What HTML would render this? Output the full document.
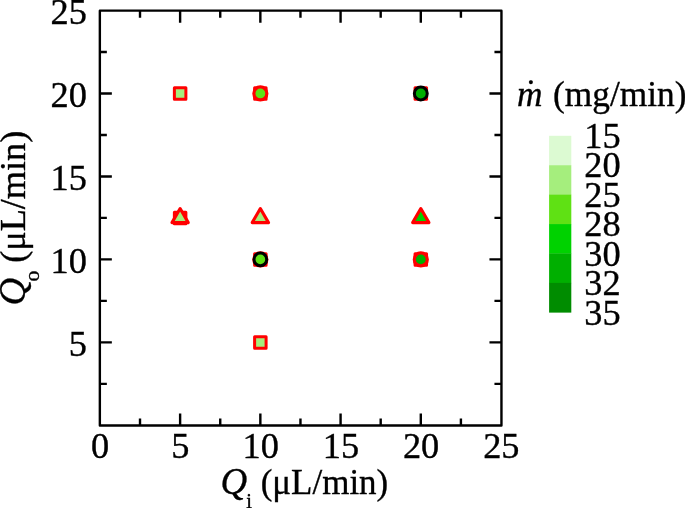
<!DOCTYPE html>
<html><head><meta charset="utf-8"><title>chart</title>
<style>
html,body{margin:0;padding:0;background:#fff;}
body{width:685px;height:508px;overflow:hidden;}
svg{display:block;}
text{font-family:"Liberation Serif","DejaVu Serif",serif;fill:#000;stroke:#000;stroke-width:0.35px;}
.it{font-style:italic;}
</style></head><body>
<svg width="685" height="508" viewBox="0 0 685 508">
<rect x="0" y="0" width="685" height="508" fill="#fff"/>
<path d="M140.01 425.55V418.55M140.01 10.65V17.65M99.85 383.88H106.85M501.45 383.88H494.45M180.12 425.55V413.55M180.12 10.65V22.65M99.85 342.39H111.85M501.45 342.39H489.45M220.24 425.55V418.55M220.24 10.65V17.65M99.85 300.90H106.85M501.45 300.90H494.45M260.35 425.55V413.55M260.35 10.65V22.65M99.85 259.41H111.85M501.45 259.41H489.45M300.46 425.55V418.55M300.46 10.65V17.65M99.85 217.92H106.85M501.45 217.92H494.45M340.58 425.55V413.55M340.58 10.65V22.65M99.85 176.43H111.85M501.45 176.43H489.45M380.69 425.55V418.55M380.69 10.65V17.65M99.85 134.94H106.85M501.45 134.94H494.45M420.80 425.55V413.55M420.80 10.65V22.65M99.85 93.45H111.85M501.45 93.45H489.45M460.91 425.55V418.55M460.91 10.65V17.65M99.85 51.96H106.85M501.45 51.96H494.45" stroke="#000" stroke-width="2.4" fill="none"/>
<rect x="99.85" y="10.65" width="401.60" height="414.90" fill="none" stroke="#000" stroke-width="2.4" stroke-linejoin="round"/>
<rect x="174.38" y="87.70" width="11.5" height="11.5" fill="#a5ee7d" stroke="#ff0000" stroke-width="3" stroke-linejoin="round"/>
<rect x="254.60" y="87.70" width="11.5" height="11.5" fill="#a5ee7d" stroke="#ff0000" stroke-width="3" stroke-linejoin="round"/>
<circle cx="260.35" cy="93.45" r="6.5" fill="#5fe114" stroke="#ff0000" stroke-width="3.2"/>
<rect x="415.05" y="87.70" width="11.5" height="11.5" fill="#a5ee7d" stroke="#ff0000" stroke-width="3" stroke-linejoin="round"/>
<circle cx="420.80" cy="93.45" r="6.45" fill="#00af00" stroke="#000" stroke-width="3.0"/>
<rect x="174.38" y="212.17" width="11.5" height="11.5" fill="#ff0000" stroke="#ff0000" stroke-width="3" stroke-linejoin="round"/>
<path d="M180.12 208.52L188.27 222.62H171.98Z" fill="#a5ee7d" stroke="#ff0000" stroke-width="3.1" stroke-linejoin="round"/>
<path d="M260.35 208.52L268.49 222.62H252.21Z" fill="#a5ee7d" stroke="#ff0000" stroke-width="3.1" stroke-linejoin="round"/>
<path d="M420.80 208.52L428.94 222.62H412.66Z" fill="#00d200" stroke="#ff0000" stroke-width="3.1" stroke-linejoin="round"/>
<rect x="254.60" y="253.66" width="11.5" height="11.5" fill="#a5ee7d" stroke="#ff0000" stroke-width="3" stroke-linejoin="round"/>
<circle cx="260.35" cy="259.41" r="6.5" fill="#5fe114" stroke="#ff0000" stroke-width="3.2"/>
<circle cx="260.35" cy="259.41" r="6.35" fill="#5fe114" stroke="#000" stroke-width="3.0"/>
<rect x="415.05" y="253.66" width="11.5" height="11.5" fill="#a5ee7d" stroke="#ff0000" stroke-width="3" stroke-linejoin="round"/>
<circle cx="420.80" cy="259.41" r="6.5" fill="#00af00" stroke="#ff0000" stroke-width="3.2"/>
<rect x="254.60" y="336.64" width="11.5" height="11.5" fill="#a5ee7d" stroke="#ff0000" stroke-width="3" stroke-linejoin="round"/>
<text transform="translate(100.20,458.40) scale(0.99,1)" font-size="36.7" text-anchor="middle">0</text>
<text transform="translate(180.43,458.40) scale(0.99,1)" font-size="36.7" text-anchor="middle">5</text>
<text transform="translate(260.65,458.40) scale(0.99,1)" font-size="36.7" text-anchor="middle">10</text>
<text transform="translate(340.88,458.40) scale(0.99,1)" font-size="36.7" text-anchor="middle">15</text>
<text transform="translate(421.10,458.40) scale(0.99,1)" font-size="36.7" text-anchor="middle">20</text>
<text transform="translate(501.33,458.40) scale(0.99,1)" font-size="36.7" text-anchor="middle">25</text>
<text transform="translate(86.90,355.59) scale(0.99,1)" font-size="36.7" text-anchor="end">5</text>
<text transform="translate(86.90,272.61) scale(0.99,1)" font-size="36.7" text-anchor="end">10</text>
<text transform="translate(86.90,189.63) scale(0.99,1)" font-size="36.7" text-anchor="end">15</text>
<text transform="translate(86.90,106.65) scale(0.99,1)" font-size="36.7" text-anchor="end">20</text>
<text transform="translate(86.90,23.67) scale(0.99,1)" font-size="36.7" text-anchor="end">25</text>
<text transform="translate(220.50,494.00) scale(0.972,1)" font-size="36" text-anchor="start"><tspan class="it" font-size="38">Q</tspan><tspan font-size="21" dy="13.5" dx="-0.9">i</tspan><tspan dy="-13.5"> (μL/min)</tspan></text>
<text transform="translate(24.90,305.50) rotate(-90) scale(1.035,1)" font-size="35" text-anchor="start"><tspan class="it" font-size="37">Q</tspan><tspan font-size="21" dy="14.2" dx="-3.4">o</tspan><tspan dy="-14.2" dx="-1.3"> (μL/min)</tspan></text>
<text transform="translate(517.00,106.30) scale(0.982,1)" font-size="36" text-anchor="start"><tspan class="it">m</tspan><tspan class="it" dx="-20" dy="-2.7">˙</tspan><tspan dx="9.8" dy="2.7"> (mg/min)</tspan></text>
<rect x="549.1" y="135.80" width="22.2" height="29.72" fill="#dcfad2"/>
<rect x="549.1" y="165.22" width="22.2" height="29.72" fill="#a5ee7d"/>
<rect x="549.1" y="194.64" width="22.2" height="29.72" fill="#5fe114"/>
<rect x="549.1" y="224.06" width="22.2" height="29.72" fill="#00d200"/>
<rect x="549.1" y="253.48" width="22.2" height="29.72" fill="#00af00"/>
<rect x="549.1" y="282.90" width="22.2" height="29.72" fill="#008c00"/>
<text transform="translate(602.50,147.90) scale(0.99,1)" font-size="36.7" text-anchor="middle">15</text>
<text transform="translate(602.50,177.40) scale(0.99,1)" font-size="36.7" text-anchor="middle">20</text>
<text transform="translate(602.50,206.90) scale(0.99,1)" font-size="36.7" text-anchor="middle">25</text>
<text transform="translate(602.50,236.40) scale(0.99,1)" font-size="36.7" text-anchor="middle">28</text>
<text transform="translate(602.50,265.90) scale(0.99,1)" font-size="36.7" text-anchor="middle">30</text>
<text transform="translate(602.50,295.40) scale(0.99,1)" font-size="36.7" text-anchor="middle">32</text>
<text transform="translate(602.50,324.90) scale(0.99,1)" font-size="36.7" text-anchor="middle">35</text>
</svg>
</body></html>
